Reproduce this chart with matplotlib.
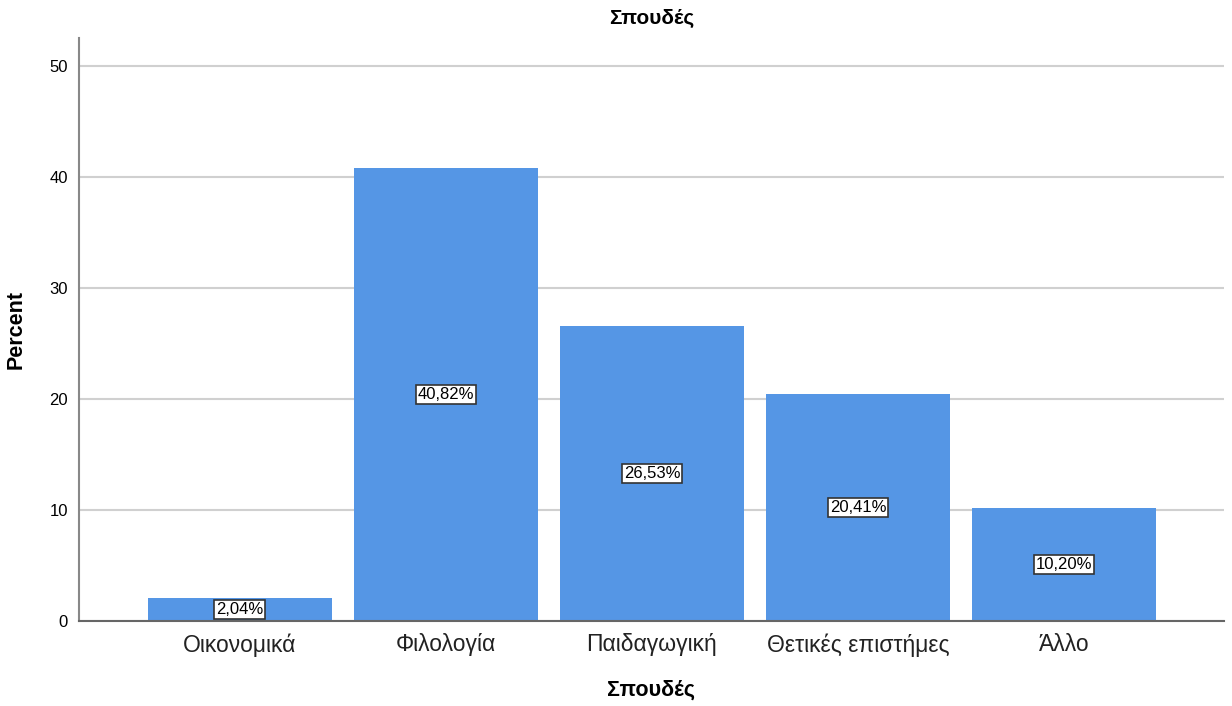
import numpy as np
import matplotlib.pyplot as plt

plt.rcParams['font.family'] = ['Liberation Sans', 'DejaVu Sans']

categories = ["Οικονομικά", "Φιλολογία", "Παιδαγωγική", "Θετικές επιστήμες", "Άλλο"]
percents = [2.04, 40.82, 26.53, 20.41, 10.20]
yticks = [0, 10, 20, 30, 40, 50]

fig = plt.figure(figsize=(12.32, 7.06), dpi=100)
ax = fig.add_axes([0.0641, 0.1204, 0.9294, 0.8258])

x = np.arange(len(categories))
bars = ax.bar(x, percents, width=0.893, color="#5596E5", zorder=2)

for rect, p in zip(bars, percents):
    ax.text(rect.get_x() + rect.get_width() / 2, p / 2,
            f"{p:.2f}%".replace(".", ","),
            ha="center", va="center", fontsize=12, color="black", zorder=3,
            bbox=dict(facecolor="white", edgecolor="#333333", linewidth=1.2,
                      boxstyle="square,pad=0.12"))

ax.set_xlim(-0.78, 4.776)
ax.set_ylim(0, 52.5)
ax.set_yticks(yticks)
ax.set_xticks(x)
ax.set_xticklabels(categories, fontsize=16.5, color="#222222")
ax.tick_params(axis="y", length=0, labelsize=12, pad=8)
ax.tick_params(axis="x", length=0, pad=9)

ax.yaxis.grid(True, color="#d0d0d0", linewidth=1.5, zorder=0)
ax.set_axisbelow(True)

for side in ["top", "right"]:
    ax.spines[side].set_visible(False)
ax.spines["left"].set_color("#888888")
ax.spines["left"].set_linewidth(1.5)
ax.spines["bottom"].set_color("#666666")
ax.spines["bottom"].set_linewidth(1.5)

ax.set_title("Σπουδές", fontsize=15, fontweight="bold", pad=10)
ax.set_xlabel("Σπουδές", fontsize=15.5, fontweight="bold", labelpad=16)
ax.set_ylabel("Percent", fontsize=15.5, fontweight="bold", labelpad=16)

fig.savefig("out.png", dpi=100)
